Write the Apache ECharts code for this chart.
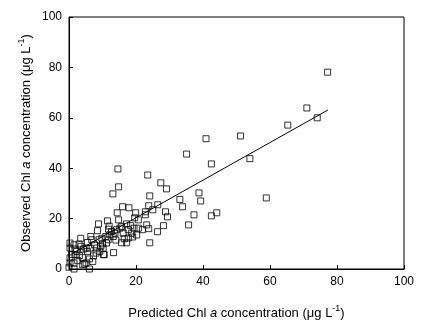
<!DOCTYPE html>
<html>
<head>
<meta charset="utf-8">
<script src="https://cdn.jsdelivr.net/npm/echarts@6/dist/echarts.min.js"></script>
<style>
  html, body { margin: 0; padding: 0; background: #fff; }
  #main { width: 423px; height: 331px; }
</style>
</head>
<body>
<div id="main"></div>
<script>
// axis ticks
var xTicks = [0, 20, 40, 60, 80, 100];
var yTicks = [0, 20, 40, 60, 80, 100];

// [predicted, observed] - sparse points
var pointsSparse = [
  [77.2, 78.1], [71.0, 63.9], [74.1, 60.0], [65.3, 57.1], [51.2, 52.8], [54.0, 43.8],
  [58.9, 28.2], [40.9, 51.7], [35.1, 45.6], [42.5, 41.7], [38.8, 30.2], [39.3, 27.0],
  [33.1, 27.6], [33.9, 24.7], [37.3, 21.5], [44.1, 22.3], [42.5, 21.1], [35.7, 17.5],
  [23.5, 37.3], [27.4, 34.2], [29.1, 31.8], [24.1, 29.0], [23.8, 25.1], [26.5, 25.5],
  [25.0, 23.5], [28.8, 22.7], [29.4, 20.7], [28.2, 17.2], [26.4, 14.8], [24.1, 10.4],
  [23.2, 17.5], [23.8, 16.0], [22.8, 22.7], [22.8, 21.5], [21.9, 15.6], [14.6, 39.7],
  [14.8, 32.6], [13.1, 29.8], [14.4, 22.3], [16.0, 24.7], [17.9, 24.3], [14.8, 19.5],
  [19.9, 22.3], [19.6, 20.3], [20.7, 19.5], [11.5, 19.1], [8.8, 17.9], [8.5, 15.2],
  [13.3, 6.5], [15.7, 10.4], [17.2, 10.4], [10.3, 5.7]
];
// dense cluster near origin
var pointsDense = [
  [0.0, 0.7], [1.5, 0.0], [6.1, 0.0], [0.3, 2.4], [1.5, 2.4], [4.7, 2.0], [5.1, 2.4],
  [4.1, 1.7], [7.1, 3.0], [6.1, 4.0], [0.3, 4.4], [0.8, 5.7], [1.8, 5.7], [3.1, 5.3],
  [0.3, 8.3], [0.3, 10.3], [1.5, 9.6], [3.0, 9.9], [3.6, 9.0], [1.8, 7.9], [4.3, 7.9],
  [5.5, 7.0], [5.1, 8.3], [6.3, 8.3], [6.8, 11.6], [6.5, 12.9], [7.6, 9.6], [8.1, 6.3],
  [8.3, 8.3], [9.0, 11.6], [9.2, 7.0], [9.5, 9.0], [10.2, 8.3], [10.5, 5.7], [10.0, 10.0],
  [11.0, 12.9], [11.2, 10.3], [11.7, 11.6], [12.2, 13.6], [12.7, 14.9], [13.2, 12.9],
  [13.7, 14.2], [14.2, 15.6], [15.2, 16.2], [15.7, 16.9], [16.2, 14.2], [17.2, 17.9],
  [17.7, 15.6], [18.4, 17.2], [18.7, 14.2], [19.0, 12.7], [17.7, 12.3], [19.4, 16.2],
  [20.7, 16.2], [12.0, 17.0], [9.8, 12.2], [2.3, 7.0], [4.0, 4.5], [7.3, 5.2], [2.6, 3.3],
  [11.8, 15.8], [16.5, 12.0], [14.0, 11.5], [20.2, 13.5], [5.5, 10.5], [3.5, 12.2]
];
// fitted line endpoints
var fitLine = [[0.8, 6.0], [77.3, 63.1]];

var chart = echarts.init(document.getElementById('main'));

var font = 'Liberation Sans, Arial, sans-serif';
var nameStyle = {
  color: '#000',
  fontFamily: font,
  fontSize: 13,
  lineHeight: 18,
  rich: {
    i: { fontStyle: 'italic', fontSize: 13, fontFamily: font, color: '#000', lineHeight: 18 },
    sup: { fontSize: 9, fontFamily: font, color: '#000', verticalAlign: 'top', lineHeight: 18 }
  }
};

function axisBase(ticks) {
  return {
    type: 'value',
    min: ticks[0],
    max: ticks[ticks.length - 1],
    interval: ticks[1] - ticks[0],
    axisLine: { show: true, lineStyle: { color: '#000', width: 1 } },
    axisTick: { show: true, inside: true, length: 4, lineStyle: { color: '#000' } },
    splitLine: { show: false },
    axisLabel: { color: '#000', fontFamily: font, fontSize: 12, margin: 7 },
    nameLocation: 'middle',
    nameMoveOverlap: false,
    nameTextStyle: nameStyle
  };
}

var xAxis = axisBase(xTicks);
xAxis.name = 'Predicted Chl {i|a} concentration (μg L{sup|-1})';
xAxis.nameGap = 35;

var yAxis = axisBase(yTicks);
yAxis.name = 'Observed Chl {i|a} concentration (μg L{sup|-1})';
yAxis.nameGap = 34;

var option = {
  backgroundColor: '#fff',
  animation: false,
  grid: {
    left: 69, right: 19, top: 17, bottom: 62,
    show: true, borderColor: '#000', borderWidth: 1, backgroundColor: 'transparent'
  },
  xAxis: xAxis,
  yAxis: yAxis,
  series: [
    {
      type: 'scatter',
      symbol: 'rect',
      symbolSize: 6,
      itemStyle: { color: 'transparent', borderColor: '#000', borderWidth: 1 },
      data: pointsSparse.concat(pointsDense)
    },
    {
      type: 'line',
      data: fitLine,
      showSymbol: false,
      lineStyle: { color: '#000', width: 1 }
    }
  ]
};
chart.setOption(option);
</script>
</body>
</html>
